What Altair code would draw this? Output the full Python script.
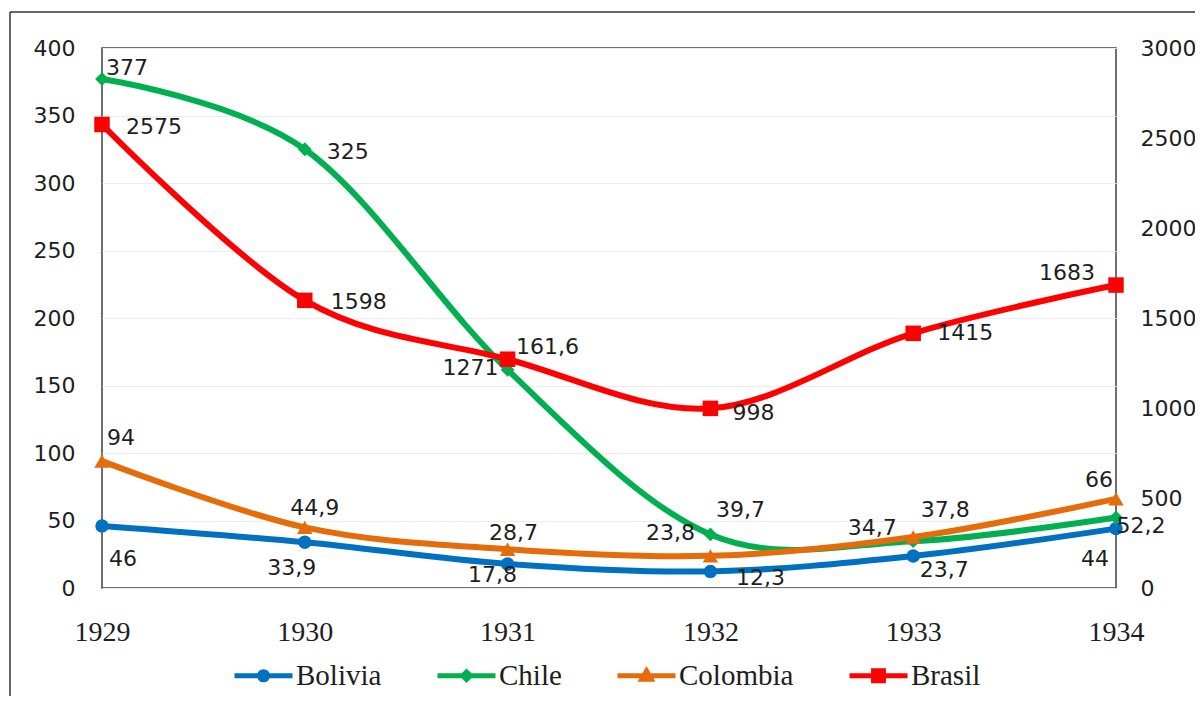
import altair as alt
import pandas as pd

# ---------------- data ----------------
years = [1929, 1930, 1931, 1932, 1933, 1934]
series_names = ["Bolivia", "Chile", "Colombia", "Brasil"]
bolivia = [46, 33.9, 17.8, 12.3, 23.7, 44]
chile = [377, 325, 161.6, 39.7, 34.7, 52.2]
colombia = [94, 44.9, 28.7, 23.8, 37.8, 66]
brasil = [2575, 1598, 1271, 998, 1415, 1683]   # secondary (right) axis
left_ticks = [0, 50, 100, 150, 200, 250, 300, 350, 400]
right_ticks = [0, 500, 1000, 1500, 2000, 2500, 3000]

# ---------------- styles ----------------
colors = ["#0070C0", "#00B050", "#E46C0A", "#FF0000"]
marker_shapes = ["circle", "diamond", "triangle-up", "square"]
marker_sizes = [180, 190, 240, 240]
legend_paths = [
    "M-1,0L1,0M-0.14,0A0.14,0.14,0,1,1,0.14,0A0.14,0.14,0,1,1,-0.14,0Z",
    "M-1,0L1,0M0,-0.13L0.13,0L0,0.13L-0.13,0Z",
    "M-1,0L1,0M0,-0.16L0.16,0.12L-0.16,0.12Z",
    "M-1,0L1,0M-0.17,-0.17L0.17,-0.17L0.17,0.17L-0.17,0.17Z",
]
# data-label nudges (pixels from the point to the label centre)
label_dx = {
    "Bolivia": [21, -13, -15, 50, 31, -21],
    "Chile": [25, 43, 40, 30, -41, 25],
    "Colombia": [19, 10, 6, -40, 32, -17],
    "Brasil": [52, 54, -37, 43, 52, -49],
}
label_dy = {
    "Bolivia": [33, 26, 11, 7, 14, 30],
    "Chile": [-11, 3, -23, -24, -13, 8],
    "Colombia": [-23, -19, -16, -23, -27, -19],
    "Brasil": [2, 2, 9, 5, 0, -12],
}

W, H = 1014, 540
LEFT_MAX, RIGHT_MAX = 400, 3000
SANS = "DejaVu Sans"
SERIF = "Liberation Serif"
TXT = "#1e1e1e"

values = {"Bolivia": bolivia, "Chile": chile, "Colombia": colombia, "Brasil": brasil}


def fmt(v):
    return str(int(v)) if float(v).is_integer() else str(v).replace(".", ",")


rows = []
for name in series_names:
    top = RIGHT_MAX if name == "Brasil" else LEFT_MAX
    for i, yr in enumerate(years):
        v = values[name][i]
        rows.append(dict(
            year=yr, series=name, value=v, label=fmt(v),
            lx=yr + label_dx[name][i] * (years[-1] - years[0]) / W,
            ly=v - label_dy[name][i] * top / H,
        ))
df = pd.DataFrame(rows)

xscale = alt.Scale(domain=[years[0], years[-1]], nice=False, zero=False)
yscale_l = alt.Scale(domain=[0, LEFT_MAX], nice=False)
yscale_r = alt.Scale(domain=[0, RIGHT_MAX], nice=False)

x_axis = alt.Axis(values=years, format="d", title=None, grid=False, ticks=False, tickSize=0,
                  domain=False, labelFont=SERIF, labelFontSize=28, labelColor=TXT,
                  labelPadding=30, labelFlush=False, labelOverlap=False)
yl_axis = alt.Axis(orient="left", values=left_ticks, format="d", title=None, grid=True,
                   gridColor="#ececec", gridWidth=1, ticks=False, tickSize=0, domain=False,
                   labelFont=SANS, labelFontSize=22, labelColor=TXT, labelPadding=27,
                   labelFlush=False)
yr_axis = alt.Axis(orient="right", values=right_ticks, format="d", title=None, grid=False,
                   ticks=False, tickSize=0, domain=False, labelFont=SANS, labelFontSize=22,
                   labelColor=TXT, labelPadding=24, labelFlush=False)


def series_layers(idx, yscale, yaxis):
    name = series_names[idx]
    base = alt.Chart(df).transform_filter(alt.datum.series == name)
    enc = dict(
        x=alt.X("year:Q", scale=xscale, axis=x_axis),
        y=alt.Y("value:Q", scale=yscale, axis=yaxis),
    )
    line = base.mark_line(interpolate="cardinal", strokeWidth=6, color=colors[idx]).encode(**enc)
    pts = base.mark_point(filled=True, opacity=1, shape=marker_shapes[idx],
                          size=marker_sizes[idx], color=colors[idx]).encode(**enc)
    return [line, pts]


def text_layer(filter_expr, yscale, yaxis):
    return alt.Chart(df).transform_filter(filter_expr).mark_text(
        font=SANS, fontSize=22, color=TXT, align="center", baseline="middle"
    ).encode(
        x=alt.X("lx:Q", scale=xscale, axis=x_axis),
        y=alt.Y("ly:Q", scale=yscale, axis=yaxis),
        text="label:N",
    )


prim_layers = []
for k in range(3):
    prim_layers += series_layers(k, yscale_l, yl_axis)
prim_layers.append(text_layer("datum.series != 'Brasil'", yscale_l, yl_axis))
primary = alt.layer(*prim_layers)

sec_layers = series_layers(3, yscale_r, yr_axis)
sec_layers.append(text_layer("datum.series == 'Brasil'", yscale_r, yr_axis))
secondary = alt.layer(*sec_layers)

leg = alt.Legend(title=None, orient="none", legendX=130, legendY=596, direction="horizontal",
                 labelFont=SERIF, labelFontSize=29, labelColor=TXT, labelOffset=1,
                 columnPadding=45, symbolSize=3364, symbolStrokeWidth=5, symbolOpacity=1,
                 padding=0)
legend_df = pd.DataFrame({"series": series_names})
legend_layer = alt.Chart(legend_df).transform_filter("false").mark_point(
    filled=True, size=3364, strokeWidth=5, opacity=1
).encode(
    fill=alt.Fill("series:N", scale=alt.Scale(domain=series_names, range=colors), legend=leg),
    stroke=alt.Stroke("series:N", scale=alt.Scale(domain=series_names, range=colors), legend=leg),
    shape=alt.Shape("series:N", scale=alt.Scale(domain=series_names, range=legend_paths), legend=leg),
)

frame_df = pd.DataFrame({"k": [0]})
left_border = alt.Chart(frame_df).mark_rule(color="#333333", strokeWidth=1.5).encode(
    x=alt.value(-92), y=alt.value(-36), y2=alt.value(H + 200))
top_border = alt.Chart(frame_df).mark_rule(color="#333333", strokeWidth=1.5).encode(
    x=alt.value(-92), x2=alt.value(W + 200), y=alt.value(-36))

chart = alt.layer(primary, secondary, legend_layer, left_border, top_border).resolve_scale(
    y="independent"
).properties(
    width=W, height=H,
    autosize=alt.AutoSizeParams(type="none"),
    padding={"left": 94, "top": 40, "right": 79, "bottom": 108},
    background="white",
).configure_view(stroke="#404040", strokeWidth=1.5)

chart.save("out.html", embed_options={"renderer": "svg", "actions": False})
